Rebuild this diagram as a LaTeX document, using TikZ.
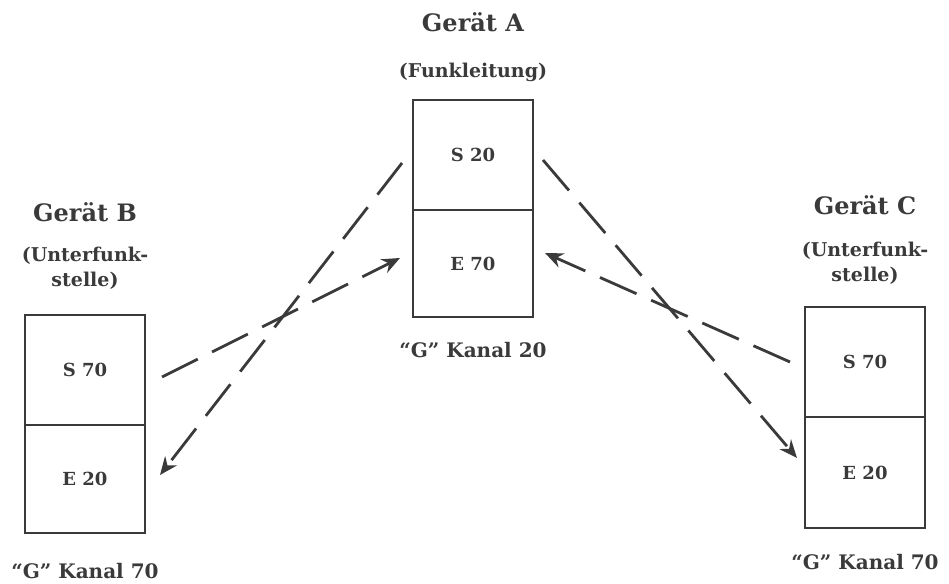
\documentclass[tikz,border=0pt]{standalone}
\usepackage{fontspec}
\setmainfont{DejaVu Serif}
\usetikzlibrary{arrows.meta}
\definecolor{ink}{HTML}{3A3A3A}
\begin{document}
\begin{tikzpicture}[x=1pt,y=-1pt,
  title/.style={font=\bfseries\fontsize{24}{27}\selectfont, text=ink},
  sub/.style={font=\bfseries\fontsize{19}{25}\selectfont, text=ink, align=center},
  cell/.style={draw=ink, line width=2.5pt, minimum width=120pt, minimum height=108pt, inner sep=0pt, font=\bfseries\fontsize{18}{20}\selectfont, text=ink},
  chan/.style={font=\bfseries\fontsize{20}{23}\selectfont, text=ink},
  link/.style={draw=ink, line width=2.8pt, dash pattern=on 40pt off 16pt, -{Stealth[length=18pt,width=15pt]}}]
\useasboundingbox (0,0) rectangle (949,583);
% Geraet A
\node[title] (tA) at (473,22) {Gerät A};
\node[sub] (sA) at (473,72) {(Funkleitung)};
\node[cell, minimum height=110pt] (A1) at (473,155) {S 20};
\node[cell, minimum height=107pt] (A2) at (473,263.5) {E 70};
\node[chan] (kA) at (473,350) {“G” Kanal 20};
% Geraet B
\node[title] (tB) at (85,212) {Gerät B};
\node[sub] (sB) at (85,268) {(Unterfunk-\\stelle)};
\node[cell, minimum height=110pt] (B1) at (85,370) {S 70};
\node[cell, minimum height=108pt] (B2) at (85,479) {E 20};
\node[chan] (kB) at (85,571) {“G” Kanal 70};
% Geraet C
\node[title] (tC) at (865,205) {Gerät C};
\node[sub] (sC) at (865,263) {(Unterfunk-\\stelle)};
\node[cell, minimum height=110pt] (C1) at (865,362) {S 70};
\node[cell, minimum height=111pt] (C2) at (865,472.5) {E 20};
\node[chan] (kC) at (865,562) {“G” Kanal 70};
% connectors
\coordinate (a1) at (402,163);
\coordinate (b2) at (160,475);
\coordinate (b1) at (162,377);
\coordinate (a2) at (400,258);
\coordinate (a3) at (543,160);
\coordinate (c2) at (797,458);
\coordinate (c1) at (790,362);
\coordinate (a4) at (545,253);
\draw[link] (a1) -- (b2);
\draw[link] (b1) -- (a2);
\draw[link] (a3) -- (c2);
\draw[link] (c1) -- (a4);
\end{tikzpicture}
\end{document}
